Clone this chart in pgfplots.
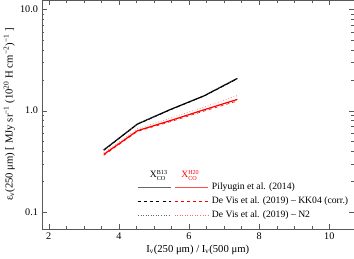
\documentclass[border=0pt]{standalone}
\usepackage{pgfplots}
\pgfplotsset{compat=1.18}
\usepackage{fontspec}
\setmainfont{Liberation Serif}
\newcommand{\xco}[1]{X{\fontsize{6}{6.5}\selectfont\begin{tabular}[c]{@{}l@{}}#1\\CO\end{tabular}}}
\begin{document}
\fontsize{10.5}{12}\selectfont
\begin{tikzpicture}
\begin{axis}[
  scale only axis, width=307pt, height=225pt,
  xmin=1.8, xmax=10.7, ymode=log, ymin=0.068, ymax=12.3,
  xtick={2,4,6,8,10}, minor x tick num=3,
  ytick={0.1,1,10}, yticklabels={0.1,1.0,10.0},
  tick align=inside, tick pos=both,
  xticklabel pos=left, yticklabel pos=left,
  major tick length=5pt, minor tick length=2.5pt,
  axis line style={black!65}, tick style={black!65},
  /pgf/number format/assume math mode=true,
  ticklabel style={font=\fontsize{10}{12}\selectfont},
  xlabel={I\textsubscript{ν}(250 μm) / I\textsubscript{ν}(500 μm)},
  ylabel={ε\textsubscript{ν}(250 μm) [ MJy sr\textsuperscript{−1} (10\textsuperscript{20} H cm\textsuperscript{−2})\textsuperscript{−1} ]},
  xlabel style={yshift=2pt},
  ylabel style={yshift=-2pt},
]
\addplot[black, line width=1.2pt] coordinates {(3.57,0.409)(4.53,0.738)(5.48,1.03)(6.43,1.40)(7.38,2.08)};
\addplot[black, dashed, line width=0.6pt] coordinates {(3.57,0.405)(4.53,0.732)(5.48,1.02)(6.43,1.39)(7.38,2.06)};
\addplot[black!60, dotted, line width=0.6pt] coordinates {(3.57,0.413)(4.53,0.745)(5.48,1.04)(6.43,1.42)(7.38,2.10)};
\addplot[red, line width=1.2pt] coordinates {(3.57,0.370)(4.53,0.634)(5.48,0.80)(6.43,1.02)(7.38,1.29)};
\addplot[red, dashed, line width=0.6pt] coordinates {(3.57,0.362)(4.53,0.624)(5.48,0.78)(6.43,0.99)(7.38,1.245)};
\addplot[red!55, dotted, line width=0.7pt] coordinates {(3.57,0.383)(4.53,0.662)(5.48,0.845)(6.43,1.085)(7.38,1.41)};
% legend
\node[font=\fontsize{9.5}{11}\selectfont, inner sep=0pt] at (axis cs:5.13,0.226) {\xco{B13}};
\node[font=\fontsize{9.5}{11}\selectfont, text=red, inner sep=0pt] at (axis cs:6.03,0.226) {\xco{H20}};
\draw[black!60, line width=1pt] (axis cs:4.55,0.176) -- (axis cs:5.48,0.176);
\draw[red!70, line width=1pt] (axis cs:5.59,0.176) -- (axis cs:6.55,0.176);
\draw[black, dashed, line width=0.5pt] (axis cs:4.55,0.127) -- (axis cs:5.48,0.127);
\draw[red, dashed, line width=0.5pt] (axis cs:5.59,0.127) -- (axis cs:6.55,0.127);
\draw[black!60, dotted, line width=0.5pt] (axis cs:4.55,0.0923) -- (axis cs:5.48,0.0923);
\draw[red!60, dotted, line width=0.5pt] (axis cs:5.59,0.0923) -- (axis cs:6.55,0.0923);
\node[anchor=west, inner sep=1pt, font=\fontsize{9.5}{11}\selectfont] at (axis cs:6.62,0.176) {Pilyugin et al. (2014)};
\node[anchor=west, inner sep=1pt, font=\fontsize{9.5}{11}\selectfont] at (axis cs:6.62,0.127) {De Vis et al. (2019) -- KK04 (corr.)};
\node[anchor=west, inner sep=1pt, font=\fontsize{9.5}{11}\selectfont] at (axis cs:6.62,0.0923) {De Vis et al. (2019) -- N2};
\end{axis}
\end{tikzpicture}
\end{document}
